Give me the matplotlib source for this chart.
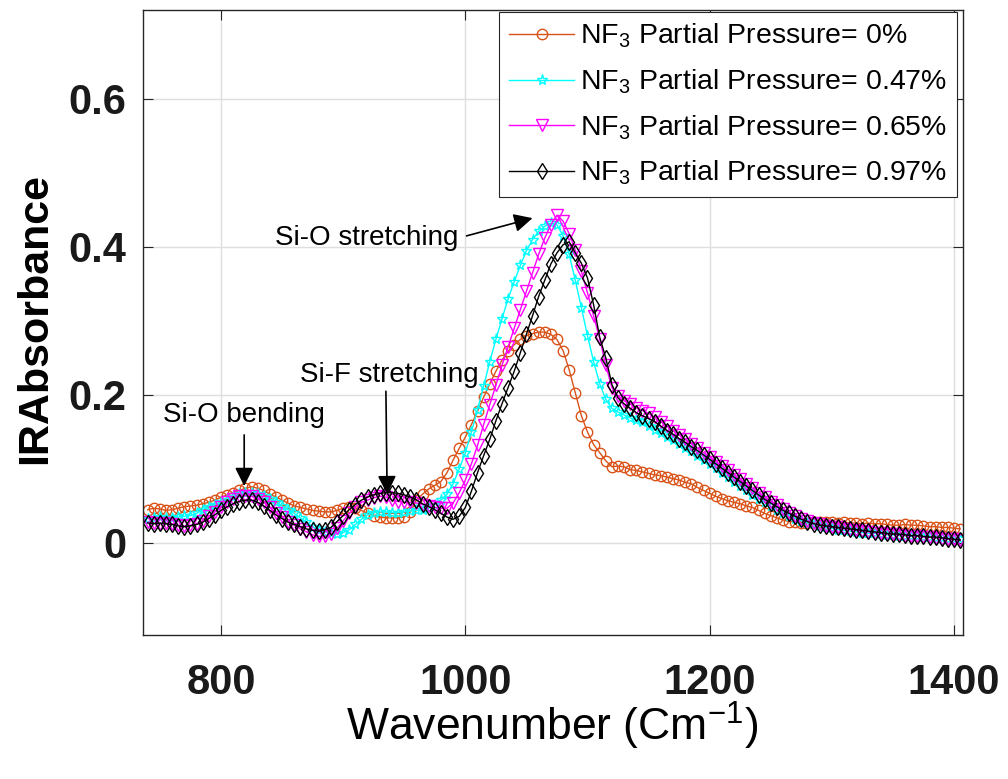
import numpy as np
import matplotlib
matplotlib.use("Agg")
import matplotlib.pyplot as plt
from matplotlib.ticker import FixedLocator, FuncFormatter

plt.rcParams["font.family"] = ["Liberation Sans", "DejaVu Sans"]
plt.rcParams["mathtext.fontset"] = "custom"
plt.rcParams["mathtext.rm"] = "Liberation Sans"
plt.rcParams["mathtext.it"] = "Liberation Sans:italic"
plt.rcParams["mathtext.bf"] = "Liberation Sans:bold"
plt.rcParams["mathtext.default"] = "regular"

# FTIR spectra sampled every 5 cm^-1 from 740 to 1405 cm^-1
wavenumber = np.arange(740, 1406, 5)

absorb_0 = [
    0.045, 0.047, 0.046, 0.044, 0.045, 0.047, 0.049, 0.050, 0.051, 0.053,
    0.055, 0.058, 0.062, 0.065, 0.068, 0.071, 0.074, 0.076, 0.074, 0.071,
    0.066, 0.062, 0.058, 0.054, 0.050, 0.048, 0.046, 0.044, 0.043, 0.042,
    0.042, 0.044, 0.047, 0.049, 0.047, 0.044, 0.040, 0.037, 0.035, 0.034,
    0.034, 0.034, 0.035, 0.042, 0.058, 0.066, 0.073, 0.078, 0.083, 0.095,
    0.112, 0.128, 0.143, 0.160, 0.178, 0.197, 0.215, 0.232, 0.247, 0.259,
    0.268, 0.275, 0.280, 0.283, 0.285, 0.285, 0.282, 0.275, 0.260, 0.234,
    0.203, 0.172, 0.150, 0.133, 0.122, 0.111, 0.103, 0.104, 0.103, 0.099,
    0.098, 0.096, 0.094, 0.092, 0.091, 0.089, 0.087, 0.085, 0.082, 0.080,
    0.075, 0.071, 0.067, 0.063, 0.060, 0.057, 0.055, 0.053, 0.050, 0.048,
    0.044, 0.040, 0.037, 0.034, 0.031, 0.029, 0.028, 0.027, 0.027, 0.028,
    0.028, 0.028, 0.028, 0.027, 0.028, 0.027, 0.027, 0.026, 0.027, 0.026,
    0.026, 0.025, 0.024, 0.024, 0.025, 0.024, 0.024, 0.023, 0.022, 0.022,
    0.021, 0.021, 0.020, 0.019,
]

absorb_047 = [
    0.033, 0.034, 0.035, 0.034, 0.034, 0.035, 0.036, 0.037, 0.040, 0.045,
    0.049, 0.052, 0.055, 0.058, 0.062, 0.066, 0.068, 0.068, 0.066, 0.063,
    0.060, 0.056, 0.050, 0.045, 0.040, 0.034, 0.028, 0.022, 0.018, 0.015,
    0.013, 0.012, 0.014, 0.018, 0.025, 0.032, 0.038, 0.041, 0.042, 0.042,
    0.041, 0.041, 0.042, 0.043, 0.044, 0.045, 0.047, 0.052, 0.058, 0.066,
    0.080, 0.100, 0.122, 0.150, 0.180, 0.212, 0.245, 0.275, 0.303, 0.330,
    0.353, 0.375, 0.395, 0.410, 0.421, 0.428, 0.432, 0.430, 0.415, 0.390,
    0.355, 0.318, 0.280, 0.245, 0.215, 0.194, 0.182, 0.177, 0.173, 0.169,
    0.166, 0.163, 0.158, 0.153, 0.148, 0.143, 0.139, 0.134, 0.129, 0.124,
    0.118, 0.112, 0.107, 0.101, 0.095, 0.089, 0.083, 0.077, 0.071, 0.065,
    0.060, 0.055, 0.050, 0.045, 0.041, 0.037, 0.033, 0.030, 0.027, 0.025,
    0.023, 0.021, 0.020, 0.018, 0.017, 0.016, 0.015, 0.014, 0.013, 0.013,
    0.012, 0.011, 0.011, 0.010, 0.010, 0.009, 0.009, 0.008, 0.008, 0.007,
    0.007, 0.006, 0.006, 0.005,
]

absorb_065 = [
    0.028, 0.027, 0.026, 0.027, 0.026, 0.024, 0.023, 0.024, 0.026, 0.030,
    0.036, 0.042, 0.049, 0.055, 0.060, 0.063, 0.064, 0.063, 0.060, 0.055,
    0.048, 0.041, 0.035, 0.029, 0.024, 0.019, 0.015, 0.011, 0.009, 0.009,
    0.012, 0.020, 0.030, 0.040, 0.049, 0.055, 0.058, 0.061, 0.063, 0.062,
    0.058, 0.056, 0.055, 0.055, 0.054, 0.052, 0.050, 0.048, 0.047, 0.047,
    0.054, 0.068, 0.085, 0.107, 0.132, 0.160, 0.187, 0.213, 0.240, 0.265,
    0.290, 0.315, 0.340, 0.365, 0.390, 0.412, 0.430, 0.443, 0.435, 0.418,
    0.396, 0.367, 0.338, 0.307, 0.276, 0.240, 0.210, 0.198, 0.192, 0.188,
    0.183, 0.179, 0.175, 0.170, 0.164, 0.158, 0.152, 0.146, 0.140, 0.134,
    0.128, 0.122, 0.116, 0.110, 0.104, 0.098, 0.092, 0.086, 0.080, 0.074,
    0.068, 0.062, 0.056, 0.051, 0.046, 0.041, 0.037, 0.033, 0.030, 0.027,
    0.025, 0.023, 0.022, 0.021, 0.019, 0.018, 0.017, 0.016, 0.015, 0.014,
    0.013, 0.012, 0.012, 0.011, 0.010, 0.010, 0.009, 0.008, 0.008, 0.007,
    0.006, 0.005, 0.005, 0.004,
]

absorb_097 = [
    0.027, 0.026, 0.027, 0.026, 0.025, 0.023, 0.022, 0.023, 0.025, 0.028,
    0.033, 0.038, 0.044, 0.049, 0.053, 0.056, 0.058, 0.058, 0.055, 0.050,
    0.044, 0.038, 0.033, 0.028, 0.025, 0.022, 0.019, 0.017, 0.016, 0.018,
    0.021, 0.029, 0.037, 0.045, 0.052, 0.058, 0.062, 0.065, 0.067, 0.068,
    0.068, 0.067, 0.065, 0.062, 0.058, 0.053, 0.049, 0.045, 0.040, 0.035,
    0.032, 0.036, 0.048, 0.070, 0.095, 0.118, 0.140, 0.165, 0.188, 0.210,
    0.232, 0.257, 0.282, 0.307, 0.333, 0.355, 0.377, 0.392, 0.403, 0.407,
    0.392, 0.378, 0.358, 0.322, 0.278, 0.250, 0.214, 0.196, 0.188, 0.182,
    0.176, 0.172, 0.168, 0.164, 0.158, 0.152, 0.147, 0.141, 0.136, 0.130,
    0.125, 0.119, 0.113, 0.107, 0.101, 0.095, 0.089, 0.083, 0.077, 0.071,
    0.065, 0.059, 0.054, 0.049, 0.044, 0.040, 0.036, 0.032, 0.029, 0.026,
    0.024, 0.023, 0.022, 0.021, 0.020, 0.019, 0.018, 0.017, 0.016, 0.015,
    0.014, 0.013, 0.012, 0.012, 0.011, 0.010, 0.010, 0.009, 0.008, 0.008,
    0.007, 0.006, 0.005, 0.004,
]

series_labels = [
    "NF$_3$ Partial Pressure= 0%",
    "NF$_3$ Partial Pressure= 0.47%",
    "NF$_3$ Partial Pressure= 0.65%",
    "NF$_3$ Partial Pressure= 0.97%",
]
x_ticks = [800, 1000, 1200, 1400]
y_ticks = [0, 0.2, 0.4, 0.6]

styles = [
    dict(color="#D95319", marker="o", markersize=7.5),
    dict(color="#00FFFF", marker="*", markersize=8),
    dict(color="#FF00FF", marker="v", markersize=8.5),
    dict(color="#000000", marker="d", markersize=8.5),
]

fig = plt.figure(figsize=(10.08, 7.79), dpi=100)
ax = fig.add_axes([0.1419, 0.1849, 0.8135, 0.8023])

for values, label, st in zip([absorb_0, absorb_047, absorb_065, absorb_097],
                             series_labels, styles):
    ax.plot(wavenumber, values, label=label, color=st["color"],
            marker=st["marker"], markersize=st["markersize"],
            markerfacecolor="none", markeredgecolor=st["color"],
            markeredgewidth=1.0, linewidth=1.0)

ax.set_xlim(736.2, 1407.4)
ax.set_ylim(-0.1243, 0.7203)
ax.xaxis.set_major_locator(FixedLocator(x_ticks))
ax.yaxis.set_major_locator(FixedLocator(y_ticks))
ax.yaxis.set_major_formatter(FuncFormatter(lambda v, p: f"{v:g}"))

ax.grid(True, color="#dedede", linewidth=1.0)
ax.set_axisbelow(True)
for sp in ax.spines.values():
    sp.set_color("#262626")
    sp.set_linewidth(1.0)
ax.tick_params(direction="in", length=7, width=0.8, color="#262626",
               top=True, right=True, labelsize=30)
ax.tick_params(axis="x", pad=20)
ax.tick_params(axis="y", pad=12)
for t in ax.get_xticklabels() + ax.get_yticklabels():
    t.set_fontweight("bold")
    t.set_color("#1a1a1a")

ax.set_xlabel("Wavenumber (Cm$^{-1}$)", fontsize=32)
ax.xaxis.set_label_coords(0.499, -0.104)
ax.set_ylabel("IRAbsorbance", fontsize=31, fontweight="bold")
ax.yaxis.set_label_coords(-0.107, 0.507)

# band assignments
ax.text(844, 0.412, "Si-O stretching", fontsize=20, va="center", ha="left")
ax.text(865, 0.227, "Si-F stretching", fontsize=20, va="center", ha="left")
ax.text(752.5, 0.173, "Si-O bending", fontsize=20, va="center", ha="left")
arrow = dict(arrowstyle="-|>", color="black", lw=1.2, mutation_scale=28,
             shrinkA=0, shrinkB=0)
ax.annotate("", xy=(1055, 0.439), xytext=(1001, 0.415), arrowprops=arrow)
ax.annotate("", xy=(936, 0.066), xytext=(935, 0.205), arrowprops=arrow)
ax.annotate("", xy=(819, 0.077), xytext=(819, 0.146), arrowprops=arrow)

leg = ax.legend(loc="upper right", bbox_to_anchor=(0.9927, 0.9968),
                borderaxespad=0, fontsize=20.5, numpoints=1, handlelength=2.3,
                handletextpad=0.2, labelspacing=0.6, borderpad=0.35,
                fancybox=False, framealpha=1, edgecolor="#262626")
leg.get_frame().set_linewidth(0.8)

fig.savefig("out.png", dpi=100)
